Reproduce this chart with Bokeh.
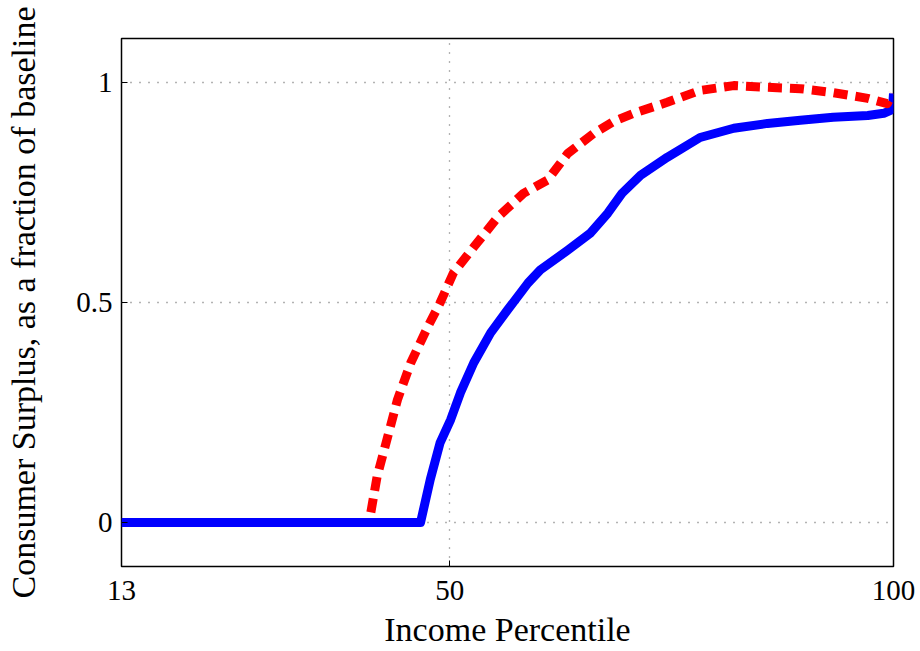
from bokeh.plotting import figure
from bokeh.models import Range1d, FixedTicker
from bokeh.embed import file_html
from bokeh.resources import INLINE

# Blue (solid) series
blue_x = [13.0, 46.7, 47.8, 48.9, 50.1, 51.2, 52.7, 54.6, 56.5, 58.8, 60.2, 63.3,
          65.8, 67.8, 69.4, 71.5, 74.5, 78.2, 82.0, 85.8, 89.5, 93.2, 97.1, 98.9,
          99.6, 99.9, 100.0]
blue_y = [0.0, 0.0, 0.098, 0.181, 0.234, 0.295, 0.363, 0.431, 0.483, 0.544, 0.574, 0.619,
          0.657, 0.703, 0.748, 0.789, 0.830, 0.875, 0.896, 0.907, 0.914, 0.921, 0.925, 0.930,
          0.936, 0.945, 0.975]

# Red (dashed) series
red_x = [41.1, 41.8, 43.0, 44.1, 45.6, 47.5, 48.9, 50.4, 52.7, 55.4, 58.3, 61.0,
         63.3, 66.2, 68.5, 70.7, 74.5, 78.2, 82.0, 85.8, 89.5, 93.2, 97.1, 99.3, 99.9]
red_y = [0.023, 0.104, 0.195, 0.279, 0.363, 0.444, 0.499, 0.567, 0.626, 0.694, 0.748, 0.778,
         0.839, 0.884, 0.912, 0.930, 0.955, 0.982, 0.993, 0.989, 0.986, 0.977, 0.964, 0.952,
         0.975]

x_ticks = [13, 50, 100]
y_ticks = [0, 0.5, 1]
x_label = "Income Percentile"
y_label = "Consumer Surplus, as a fraction of baseline"

FONT = "Liberation Serif"

p = figure(width=920, height=651, output_backend="svg", toolbar_location=None,
           x_range=Range1d(13, 100), y_range=Range1d(-0.1, 1.1),
           min_border_left=121, min_border_top=38, min_border_right=27, min_border_bottom=85)

p.outline_line_color = "black"
p.outline_line_width = 1.5
p.background_fill_color = "white"
p.border_fill_color = "white"

for g in (p.xgrid, p.ygrid):
    g.grid_line_color = "#666666"
    g.grid_line_dash = "1 8"
    g.grid_line_width = 1.3
p.xgrid.ticker = FixedTicker(ticks=x_ticks)
p.ygrid.ticker = FixedTicker(ticks=y_ticks)

p.xaxis.ticker = FixedTicker(ticks=x_ticks)
p.yaxis.ticker = FixedTicker(ticks=y_ticks)
p.xaxis.major_label_overrides = {13: "13", 50: "50", 100: "100"}
p.yaxis.major_label_overrides = {0: "0", 0.5: "0.5", 1: "1"}

for ax in (p.xaxis, p.yaxis):
    ax.axis_line_color = None
    ax.major_tick_in = 6
    ax.major_tick_out = 0
    ax.minor_tick_line_color = None
    ax.major_tick_line_color = "black"
    ax.major_label_text_font = FONT
    ax.major_label_text_font_size = "29px"
    ax.major_label_text_color = "black"
    ax.major_label_text_line_height = 1.0
    ax.axis_label_text_font = FONT
    ax.axis_label_text_font_size = "34px"
    ax.axis_label_text_font_style = "normal"
    ax.axis_label_text_color = "black"
    ax.axis_label_text_line_height = 1.0

p.xaxis.axis_label = x_label
p.yaxis.axis_label = y_label
p.xaxis.major_label_standoff = 14
p.xaxis.axis_label_standoff = 8
p.yaxis.major_label_standoff = 9
p.yaxis.axis_label_standoff = 31

p.line(blue_x, blue_y, line_color="#0000ff", line_width=9, line_join="round")
p.line(red_x, red_y, line_color="#ff0000", line_width=9, line_dash="14 8",
       line_join="round", line_cap="butt")

open("out.html", "w").write(file_html(p, INLINE))
